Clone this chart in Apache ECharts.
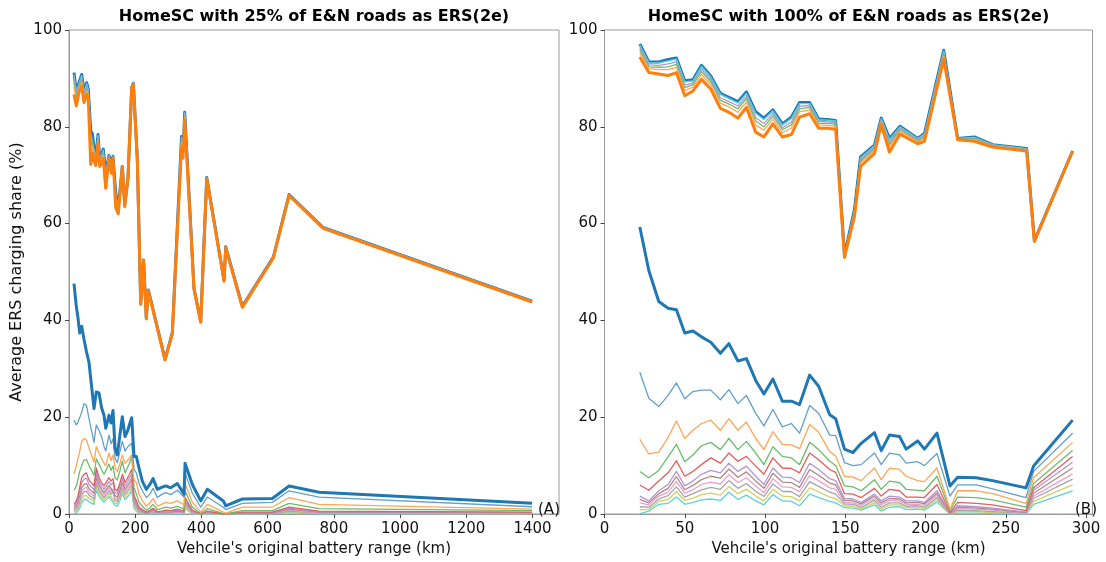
<!DOCTYPE html>
<html><head><meta charset="utf-8">
<script src="https://cdn.jsdelivr.net/npm/echarts@6/dist/echarts.min.js"></script>
<style>html,body{margin:0;padding:0;background:#fff}#c{width:1106px;height:562px}</style>
</head><body><div id="c"></div>
<script>
// ---------- LEFT PANEL (25%) ----------
const leftHiX = [15.1,22.1,30.2,38.4,45.3,53.5,58.3,65.6,70.4,75.5,80.7,87.6,92.7,98.8,103.6,110.9,120.8,127.8,132.9,141.1,148.9,161,168.3,178.2,189.4,194.3,206.3,216.6,225.1,233.5,239.6,290,312.1,339.9,344.4,349.5,377.6,397.9,416,468.3,473.4,523.6,617.2,664.7,767.4,1398.8];
const leftHiTop = [91.2,87.4,89.1,90.8,87.4,89.1,87.8,79.2,78.6,75.8,73.5,78.4,73.5,74.5,75.4,70.4,74.1,72.5,73.9,66.3,63.3,71.8,63.9,69.4,88.1,89.0,73.5,43.5,52.5,40.5,46.3,32.0,37.4,78.0,74.9,83.0,46.6,39.8,69.5,48.3,55.2,42.9,53.1,66.0,59.2,44.0];
const leftHiOrange = [86.7,84.3,87.1,88.4,85.0,86.7,85.7,72.2,74.6,73.0,72.0,76.5,71.8,72.5,73.5,67.3,73.5,70.4,73.5,63.3,62.0,71.8,63.5,69.4,88.1,88.8,73.3,43.3,52.3,40.3,46.1,31.8,37.2,76.0,73.5,81.5,46.4,39.6,69.3,48.1,55.0,42.7,52.9,65.8,59.0,43.8];
const leftHiPeach = [88.3,85.4,87.8,89.2,85.8,87.5,86.4,74.7,76.0,74.0,72.5,77.2,72.4,73.2,74.2,68.4,73.7,71.1,73.6,64.4,62.5,71.8,63.6,69.4,88.1,88.9,73.4,43.4,52.4,40.4,46.2,31.9,37.3,76.7,74.0,82.0,46.5,39.7,69.4,48.2,55.1,42.8,53.0,65.9,59.1,43.9];
const leftHiGreen = [89.2,86.0,88.2,89.7,86.3,88.0,86.9,76.1,76.8,74.5,72.8,77.5,72.7,73.6,74.5,69.0,73.8,71.6,73.7,65.0,62.7,71.8,63.7,69.4,88.1,88.9,73.4,43.4,52.4,40.4,46.2,31.9,37.3,77.1,74.3,82.3,46.5,39.7,69.4,48.2,55.1,42.8,53.0,65.9,59.1,43.9];
const leftHiPurple = [90.1,86.6,88.6,90.2,86.8,88.5,87.3,77.5,77.6,75.1,73.1,77.9,73.1,74.0,74.9,69.6,74.0,72.0,73.8,65.6,63.0,71.8,63.8,69.4,88.1,89.0,73.5,43.5,52.5,40.5,46.3,32.0,37.4,77.5,74.5,82.6,46.6,39.8,69.5,48.3,55.2,42.9,53.1,66.0,59.2,44.0];
const leftHiCyan = [90.8,87.2,88.9,90.6,87.2,88.9,87.6,78.6,78.3,75.6,73.4,78.2,73.4,74.3,75.2,70.2,74.1,72.3,73.9,66.1,63.2,71.8,63.9,69.4,88.1,89.0,73.5,43.5,52.5,40.5,46.3,32.0,37.4,77.8,74.8,82.9,46.6,39.8,69.5,48.3,55.2,42.9,53.1,66.0,59.2,44.0];

const leftLoX = [15.1,22.1,27.2,32.3,38.4,45.3,52.9,60.4,75.5,82.5,90.6,98.2,105.7,110.9,120.8,126.9,132.9,139,145.9,154.1,161,169.2,176.1,182.8,189.4,196.4,203.3,211.5,221.5,233.5,243.2,253.8,266.8,279.5,292.1,307.3,327.2,347.4,350.5,372.5,397.9,417.8,466.2,473.4,523.6,614.2,664.7,755.3,1398.8];
const leftLoThick = [47.6,42.9,40.5,37.4,38.8,36.1,33.5,31.3,21.8,25.2,25.0,22.0,20.4,17.7,20.4,18.8,21.4,13.6,12.2,16.5,20.1,16.0,17.0,18.5,19.9,11.9,11.9,9.5,6.8,5.1,6.0,7.3,5.1,5.5,5.8,5.4,6.3,4.1,10.5,6.1,2.7,5.1,2.7,1.7,3.1,3.2,5.8,4.5,2.2];
const leftLoLightBlue = [19.4,18.4,19.0,18.6,21.0,22.8,22.4,19.7,14.8,18.4,17.3,16.0,14.0,13.0,16.3,14.5,15.5,11.6,10.6,13.0,15.0,13.0,13.8,14.2,14.6,9.3,8.5,6.3,4.8,3.4,4.0,5.3,3.4,4.0,4.4,4.0,4.9,3.5,8.5,4.3,1.4,3.5,1.4,0.9,2.2,2.4,4.8,3.5,1.5];
const leftLoOrange = [8.3,9.9,11.5,12.9,15.0,15.6,15.3,13.6,10.7,13.9,12.6,11.5,10.5,10.0,12.6,11.0,12.2,9.5,8.8,10.5,12.2,10.5,11.0,11.6,12.2,7.1,6.5,4.1,2.8,1.6,2.2,3.2,1.6,2.0,2.4,2.2,2.7,1.9,6.3,2.4,0.4,2.0,0.4,0.2,1.4,1.4,3.4,2.0,1.0];
const leftLoGreen = [4.9,5.7,7.2,8.8,10.0,11.2,11.2,10.0,8.0,11.4,10.3,9.2,8.2,8.5,10.3,9.0,9.9,7.5,7.0,9.0,10.9,8.5,9.5,10.5,11.9,5.4,4.2,2.4,1.6,0.8,1.2,2.0,0.9,1.1,1.4,1.2,1.6,1.0,4.8,1.4,0.1,1.1,0.1,0.0,0.7,0.7,2.2,1.1,0.7];
const leftLoRed = [2.0,2.7,3.8,5.5,7.5,8.2,8.5,7.0,5.8,9.5,7.6,6.5,5.8,6.0,7.5,6.8,7.3,5.1,4.8,6.5,8.2,6.5,7.3,8.2,9.2,3.8,2.8,1.4,0.9,0.4,0.7,1.2,0.5,0.6,0.8,0.7,1.0,0.6,3.4,0.8,0.0,0.6,0.0,0.0,0.4,0.4,1.4,0.6,0.4];
const leftLoPurple = [1.6,2.2,3.1,4.6,6.5,7.2,7.4,6.1,5.0,8.6,6.8,5.8,5.1,5.3,6.7,6.0,6.5,4.4,4.2,5.8,7.4,5.8,6.5,7.4,8.3,3.3,2.4,1.1,0.7,0.3,0.6,1.0,0.4,0.5,0.6,0.6,0.8,0.5,3.0,0.6,0.0,0.5,0.0,0.0,0.3,0.3,1.2,0.5,0.3];
const leftLoBrown = [1.2,1.7,2.5,3.8,5.4,6.1,6.3,5.2,4.3,7.7,6.1,5.1,4.4,4.6,5.9,5.3,5.7,3.8,3.5,5.0,6.6,5.1,5.8,6.5,7.4,2.8,1.9,0.9,0.5,0.2,0.4,0.8,0.3,0.4,0.5,0.4,0.6,0.4,2.5,0.5,0.0,0.4,0.0,0.0,0.2,0.2,1.0,0.4,0.3];
const leftLoPink = [0.9,1.3,2.0,3.1,4.6,5.3,5.5,4.5,3.7,7.0,5.5,4.6,3.9,4.1,5.4,4.7,5.2,3.3,3.0,4.5,6.0,4.6,5.2,5.9,6.8,2.4,1.6,0.7,0.4,0.2,0.3,0.6,0.2,0.3,0.4,0.3,0.5,0.3,2.2,0.4,0.0,0.3,0.0,0.0,0.2,0.2,0.8,0.3,0.2];
const leftLoGray = [0.7,1.0,1.5,2.5,3.9,4.6,4.7,3.9,3.1,6.4,4.9,4.1,3.4,3.6,4.8,4.1,4.6,2.8,2.6,3.9,5.4,4.1,4.6,5.3,6.1,2.0,1.3,0.5,0.3,0.1,0.2,0.4,0.2,0.2,0.2,0.2,0.4,0.2,1.9,0.2,0.0,0.2,0.0,0.0,0.1,0.1,0.6,0.2,0.2];
const leftLoOlive = [0.4,0.6,1.0,1.8,3.1,3.8,3.8,3.2,2.6,5.7,4.4,3.5,2.9,3.1,4.2,3.6,4.0,2.3,2.1,3.4,4.8,3.5,4.1,4.6,5.5,1.6,0.9,0.3,0.1,0.1,0.1,0.3,0.1,0.1,0.1,0.1,0.2,0.1,1.5,0.1,0.0,0.1,0.0,0.0,0.1,0.1,0.5,0.1,0.1];
const leftLoCyan = [0.1,0.2,0.5,1.2,2.3,3.0,3.0,2.5,2.0,5.0,3.8,3.0,2.4,2.6,3.6,3.0,3.4,1.8,1.6,2.8,4.2,3.0,3.5,4.0,4.8,1.2,0.6,0.1,0.0,0.0,0.0,0.1,0.0,0.0,0.0,0.0,0.1,0.0,1.2,0.0,0.0,0.0,0.0,0.0,0.0,0.0,0.3,0.0,0.1];

// ---------- RIGHT PANEL (100%) ----------
const rightHiX = [22.0,27.6,33.8,39.6,44.8,50.0,55.1,60.4,66.2,72.2,77.5,83.1,88.4,94.2,99.3,104.9,110.8,116.4,121.5,127.8,133.4,138.8,144.0,149.5,155.7,159.5,168.2,172.4,177.5,184.1,195.1,199.3,211.3,220.0,230.4,241.8,263.0,267.8,291.6];
const rightHiTop = [97.1,93.4,93.4,93.9,94.2,89.5,89.7,92.7,90.5,86.9,86.1,85.2,87.2,83.1,81.8,83.5,80.6,82.0,85.0,85.0,81.6,81.5,81.3,53.5,62.9,73.8,76.2,81.8,77.6,80.1,77.6,78.6,95.8,77.6,77.9,76.3,75.5,56.5,75.0];
const rightHiOrange = [94.4,91.2,90.9,90.6,91.2,86.4,87.4,89.8,87.8,83.8,83.0,81.8,84.0,78.9,77.9,80.6,77.9,78.4,82.0,82.7,79.7,79.7,79.5,53.0,61.5,71.8,74.5,80.5,74.8,78.5,76.5,77.0,94.0,77.3,77.0,75.8,75.0,56.3,75.0];
const rightHiPeach = [95.3,92.0,91.8,91.8,92.3,87.5,88.2,90.8,88.7,84.9,84.1,83.0,85.1,80.4,79.3,81.6,78.8,79.7,83.1,83.5,80.4,80.3,80.1,53.2,62.0,72.5,75.1,81.0,75.8,79.1,76.9,77.6,94.6,77.4,77.3,76.0,75.2,56.4,75.0];
const rightHiGreen = [95.9,92.4,92.3,92.4,92.9,88.1,88.7,91.4,89.3,85.5,84.7,83.7,85.8,81.2,80.0,82.2,79.4,80.4,83.7,84.0,80.7,80.7,80.5,53.3,62.3,72.9,75.4,81.2,76.3,79.4,77.1,77.9,95.0,77.5,77.5,76.1,75.3,56.4,75.0];
const rightHiPurple = [96.3,92.8,92.7,93.0,93.4,88.6,89.1,91.9,89.7,86.0,85.2,84.3,86.3,81.9,80.7,82.7,79.8,81.0,84.2,84.4,81.1,81.0,80.8,53.4,62.5,73.2,75.7,81.4,76.8,79.7,77.3,78.2,95.3,77.5,77.6,76.2,75.4,56.4,75.0];
const rightHiCyan = [96.9,93.2,93.2,93.6,94.0,89.3,89.5,92.5,90.3,86.7,85.9,84.9,86.9,82.8,81.5,83.3,80.4,81.7,84.8,84.8,81.5,81.4,81.2,53.5,62.8,73.6,76.1,81.7,77.4,80.0,77.5,78.5,95.7,77.6,77.8,76.3,75.5,56.5,75.0];

const rightLoX = [22.0,27.6,33.8,39.6,44.8,50.0,55.1,60.4,66.2,72.2,77.5,83.1,88.4,94.2,99.3,104.9,110.8,116.4,121.5,127.8,133.4,140.3,144.0,149.5,154.8,159.9,168.2,172.4,177.5,183.8,187.9,195.1,199.3,207.1,215.2,220.0,231.5,241.8,262.6,267.3,291.6];
const rightLoThick = [59.3,50.3,43.9,42.5,42.2,37.4,37.8,36.6,35.5,33.2,35.2,31.6,32.1,27.6,24.8,27.9,23.3,23.3,22.6,28.7,26.4,20.5,19.7,13.4,12.7,14.6,16.8,13.1,16.3,16.0,13.4,15.1,13.4,16.7,5.8,7.6,7.5,6.9,5.4,9.9,19.4];
const rightLoLightBlue = [29.3,23.9,22.2,24.5,27.1,23.8,25.3,25.6,25.6,23.6,25.7,22.8,24.5,20.8,18.2,21.6,18.0,18.7,16.7,22.4,20.8,16.3,16.2,10.6,10.0,10.2,12.6,10.2,12.6,12.2,10.5,10.8,10.0,12.5,3.7,6.0,6.0,5.2,3.4,8.8,16.7];
const rightLoOrange = [15.4,12.4,12.8,15.8,19.2,15.6,17.3,18.7,19.4,17.3,19.7,17.3,19.0,15.6,13.3,17.0,14.4,14.3,13.5,18.5,16.9,12.9,12.0,7.8,7.6,6.9,9.5,7.1,9.5,9.2,7.8,6.9,6.7,9.5,1.0,4.8,4.8,4.2,2.2,7.5,14.8];
const rightLoGreen = [8.8,7.5,9.0,11.8,14.4,10.8,12.2,14.1,14.8,13.3,15.6,13.3,15.0,12.6,10.2,13.9,11.9,11.6,10.2,14.8,13.3,10.9,10.0,5.8,5.6,4.8,7.1,5.1,6.8,6.5,5.1,4.9,4.8,7.8,0.7,3.5,3.4,2.9,1.4,6.3,13.1];
const rightLoRed = [6.0,4.9,6.8,8.5,11.0,7.8,8.8,10.2,11.6,10.5,12.6,10.9,11.9,9.9,8.2,11.6,9.5,9.4,8.5,12.6,11.2,9.2,8.6,4.2,4.1,3.4,5.3,3.7,5.1,4.8,3.5,3.5,3.4,6.1,0.3,2.4,2.2,1.9,0.7,5.4,11.9];
const rightLoPurple = [3.7,2.7,4.8,6.1,8.8,5.8,6.8,8.2,9.0,8.5,10.5,8.8,9.9,7.8,6.1,9.5,7.6,7.5,6.5,10.5,9.2,7.3,6.9,3.2,3.1,2.4,4.1,2.7,3.7,3.5,2.7,2.7,2.4,4.8,0.1,1.7,1.5,1.2,0.4,4.9,10.7];
const rightLoBrown = [3.0,2.3,4.2,5.3,7.7,5.0,5.9,7.1,7.8,7.4,9.3,7.6,8.7,6.8,5.3,8.4,6.6,6.5,5.5,9.2,8.0,6.4,6.0,2.8,2.7,2.1,3.7,2.3,3.2,3.1,2.3,2.4,2.1,4.3,0.1,1.4,1.2,1.0,0.3,4.3,9.5];
const rightLoPink = [2.3,1.9,3.7,4.5,6.7,4.3,5.0,6.1,6.6,6.2,8.1,6.5,7.5,5.8,4.4,7.3,5.6,5.5,4.6,7.9,6.9,5.4,5.1,2.4,2.3,1.8,3.2,1.9,2.8,2.7,2.0,2.0,1.8,3.9,0.1,1.1,1.0,0.8,0.2,3.7,8.3];
const rightLoGray = [1.5,1.4,3.1,3.8,5.6,3.5,4.2,5.0,5.5,5.1,6.9,5.3,6.3,4.7,3.6,6.2,4.7,4.6,3.6,6.7,5.7,4.5,4.1,2.1,2.0,1.4,2.8,1.4,2.3,2.3,1.6,1.7,1.4,3.4,0.0,0.8,0.7,0.5,0.2,3.2,7.2];
const rightLoOlive = [0.8,1.0,2.6,3.0,4.6,2.8,3.3,4.0,4.3,3.9,5.7,4.2,5.1,3.7,2.7,5.1,3.7,3.6,2.7,5.4,4.6,3.5,3.2,1.7,1.6,1.1,2.3,1.0,1.9,1.9,1.3,1.3,1.1,3.0,0.0,0.5,0.5,0.3,0.1,2.6,6.0];
const rightLoCyan = [0.1,0.6,2.0,2.2,3.5,2.0,2.4,2.9,3.1,2.8,4.5,3.0,3.9,2.7,1.9,4.0,2.7,2.6,1.7,4.1,3.4,2.6,2.3,1.3,1.2,0.8,1.9,0.6,1.4,1.5,0.9,1.0,0.8,2.5,0.0,0.2,0.2,0.1,0.0,2.0,4.8];

const yTicks = [0, 20, 40, 60, 80, 100];
const titles = ['HomeSC with 25% of E&N roads as ERS(2e)', 'HomeSC with 100% of E&N roads as ERS(2e)'];
const xName = "Vehcile's original battery range (km)";
const yName = 'Average ERS charging share (%)';

// ---------- BUILD ----------
const C = {
  blue:'#1f77b4', orange:'#ff7f0e',
  lb:'#62a0ca', or:'#ffa556', gr:'#6bbc6b', rd:'#e25f60', pu:'#b495d1',
  br:'#af8981', pk:'#eba0d4', gy:'#a5a5a5', ol:'#d0d164', cy:'#5dd2dd'
};
const FONT = 'DejaVu Sans';
function mk(xs, ys, color, width, gi, z) {
  return {type:'line', xAxisIndex:gi, yAxisIndex:gi, data: xs.map((x,i)=>[x, ys[i]]),
    symbol:'none', showSymbol:false, lineStyle:{color, width, join:'round'}, itemStyle:{color},
    z, silent:true, animation:false};
}
const series = [];
function panel(gi, loX, lo, hiX, hi) {
  const thin = 1.3;
  const loOrder = [[lo.cy,C.cy],[lo.ol,C.ol],[lo.gy,C.gy],[lo.pk,C.pk],[lo.br,C.br],[lo.pu,C.pu],[lo.rd,C.rd],[lo.gr,C.gr],[lo.or,C.or],[lo.lb,C.lb]];
  loOrder.forEach((p,i)=>series.push(mk(loX, p[0], p[1], thin, gi, 2+i)));
  series.push(mk(loX, lo.thick, C.blue, 3, gi, 20));
  series.push(mk(hiX, hi.top, C.blue, 3, gi, 21));
  [[hi.cy,C.cy],[hi.pu,C.pu],[hi.gr,C.gr],[hi.pe,C.or]].forEach((p,i)=>series.push(mk(hiX, p[0], p[1], thin, gi, 22+i)));
  series.push(mk(hiX, hi.orange, C.orange, 3, gi, 30));
}
panel(0, leftLoX,
  {thick:leftLoThick, lb:leftLoLightBlue, or:leftLoOrange, gr:leftLoGreen, rd:leftLoRed, pu:leftLoPurple, br:leftLoBrown, pk:leftLoPink, gy:leftLoGray, ol:leftLoOlive, cy:leftLoCyan},
  leftHiX, {top:leftHiTop, orange:leftHiOrange, pe:leftHiPeach, gr:leftHiGreen, pu:leftHiPurple, cy:leftHiCyan});
panel(1, rightLoX,
  {thick:rightLoThick, lb:rightLoLightBlue, or:rightLoOrange, gr:rightLoGreen, rd:rightLoRed, pu:rightLoPurple, br:rightLoBrown, pk:rightLoPink, gy:rightLoGray, ol:rightLoOlive, cy:rightLoCyan},
  rightHiX, {top:rightHiTop, orange:rightHiOrange, pe:rightHiPeach, gr:rightHiGreen, pu:rightHiPurple, cy:rightHiCyan});

const axisCommon = {
  axisLine:{show:true, lineStyle:{color:'#9a9a9a', width:1}},
  axisTick:{show:true, length:4, lineStyle:{color:'#444'}},
  splitLine:{show:false},
  axisLabel:{color:'#111', fontSize:15, fontFamily:FONT, margin:7, formatter:(v)=>String(v)},
  nameTextStyle:{color:'#111', fontSize:15, fontFamily:FONT}
};
function xAx(gi, max, interval) {
  return Object.assign({}, axisCommon, {type:'value', gridIndex:gi, min:0, max, interval,
    name:xName, nameLocation:'middle', nameGap:28,
    axisLabel:Object.assign({}, axisCommon.axisLabel, {showMaxLabel:false, margin:8})});
}
function yAx(gi, withName) {
  return Object.assign({}, axisCommon, {type:'value', gridIndex:gi, min:yTicks[0], max:yTicks[yTicks.length-1], interval:yTicks[1]-yTicks[0],
    name: withName ? yName : '', nameLocation:'middle', nameGap:44,
    nameTextStyle:{color:'#111', fontSize:16, fontFamily:FONT}});
}
const chart = echarts.init(document.getElementById('c'), null, {renderer:'canvas'});
chart.setOption({
  backgroundColor:'#fff',
  animation:false,
  grid:[
    {left:69, top:30, width:490, height:490, show:true, borderColor:'#9a9a9a', borderWidth:1},
    {left:604.5, top:30, width:488, height:490, show:true, borderColor:'#9a9a9a', borderWidth:1}
  ],
  xAxis:[xAx(0, 1480, 200), xAx(1, 304, 50)],
  yAxis:[yAx(0, true), yAx(1, false)],
  series,
  graphic:[
    {type:'text', x:314, y:17, style:{text:titles[0], font:'bold 16px "'+FONT+'"', fill:'#000', textAlign:'center', textVerticalAlign:'middle'}},
    {type:'text', x:848.5, y:17, style:{text:titles[1], font:'bold 16px "'+FONT+'"', fill:'#000', textAlign:'center', textVerticalAlign:'middle'}},
    {type:'text', x:549, y:510, style:{text:'(A)', font:'15px "'+FONT+'"', fill:'#111', textAlign:'center', textVerticalAlign:'middle'}, z:100},
    {type:'text', x:1086, y:510, style:{text:'(B)', font:'15px "'+FONT+'"', fill:'#111', textAlign:'center', textVerticalAlign:'middle'}, z:100}
  ]
});
</script></body></html>
